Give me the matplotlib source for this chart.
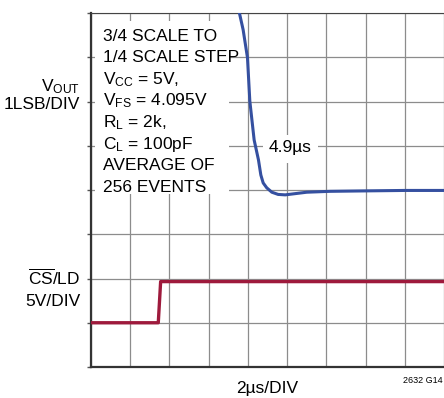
import matplotlib
matplotlib.use('Agg')
import matplotlib.pyplot as plt
from matplotlib.patches import Rectangle

plt.rcParams['font.family'] = ['Liberation Sans', 'DejaVu Sans']
plt.rcParams['mathtext.fontset'] = 'custom'
plt.rcParams['mathtext.rm'] = 'Liberation Sans'
plt.rcParams['mathtext.it'] = 'Liberation Sans'

# scope traces, in divisions (x: 2us/div, y: screen divisions)
vout_t = [3.68, 3.78, 3.88, 3.99, 4.05, 4.16, 4.27, 4.33, 4.39, 4.48, 4.61, 4.77,
          4.95, 5.50, 6.09, 7.0, 8.0, 9.0, 10.0]
vout_v = [8.6, 8.02, 7.62, 6.99, 6.01, 5.13, 4.68, 4.34, 4.16, 4.05, 3.95, 3.90,
          3.89, 3.95, 3.97, 3.98, 3.99, 3.99, 3.99]
cs_t = [0.0, 1.72, 1.78, 10.0]
cs_v = [1.0, 1.0, 1.93, 1.93]

cond_lines = ['3/4 SCALE TO', '1/4 SCALE STEP', r'V$_{\rm CC}$ = 5V,',
              r'V$_{\rm FS}$ = 4.095V', r'R$_{\rm L}$ = 2k,', r'C$_{\rm L}$ = 100pF',
              'AVERAGE OF', '256 EVENTS']
settle_label = '4.9µs'

W, H = 444, 398
fig = plt.figure(figsize=(W / 100, H / 100), dpi=100)
x0, y0, dx, dy = 90.7, 367.0, 39.29, 44.25
ax = fig.add_axes([x0 / W, (H - y0) / H, 10 * dx / W, 8 * dy / H])
ax.set_xlim(0, 10)
ax.set_ylim(0, 8)
ax.set_xticks(range(11))
ax.set_yticks(range(9))
ax.set_xticklabels([])
ax.set_yticklabels([])
ax.tick_params(axis='x', length=0)
ax.tick_params(axis='y', direction='out', length=3, width=1, color='#555555')
ax.grid(True, color='#8c8c8c', linewidth=0.9)
ax.set_axisbelow(True)
for s in ['left', 'bottom']:
    ax.spines[s].set_linewidth(1.6)
    ax.spines[s].set_color('#333333')
ax.spines['top'].set_linewidth(0.8)
ax.spines['top'].set_color('#444444')
ax.spines['right'].set_visible(False)

# white panels behind the annotation text
ax.add_patch(Rectangle((0.11, 3.90), 3.42, 3.92, fc='white', ec='none', zorder=1))
ax.add_patch(Rectangle((4.39, 4.62), 1.40, 0.62, fc='white', ec='none', zorder=1))

ax.plot(vout_t, vout_v, color='#3550a0', lw=2.2, solid_joinstyle='round', zorder=3)
ax.plot(cs_t, cs_v, color='#9e1a3c', lw=2.4, solid_joinstyle='round', zorder=3)

fs = 12.5
for i, s in enumerate(cond_lines):
    base = 40.7 + i * 21.6
    ax.text(0.32, (y0 - base) / dy, s, fontsize=fs, va='baseline', ha='left', zorder=4)
ax.text(5.08, (y0 - 151.7) / dy, settle_label, fontsize=fs, va='baseline', ha='center', zorder=4)

# channel labels left of the screen
ax.text(-0.26, (y0 - 91.7) / dy, r'V$_{\rm OUT}$', fontsize=fs, ha='right', va='baseline', clip_on=False)
ax.text(-0.26, (y0 - 109) / dy, '1LSB/DIV', fontsize=fs, ha='right', va='baseline', clip_on=False)
ax.text(-0.26, (y0 - 285) / dy, r'$\overline{\rm CS}$/LD', fontsize=fs, ha='right', va='baseline', clip_on=False)
ax.text(-0.26, (y0 - 306) / dy, '5V/DIV', fontsize=fs, ha='right', va='baseline', clip_on=False)
ax.text(4.50, (y0 - 393) / dy, '2µs/DIV', fontsize=fs, ha='center', va='baseline', clip_on=False)
ax.text(7.95, (y0 - 383) / dy, '2632 G14', fontsize=6.5, ha='left', va='baseline', clip_on=False)

fig.savefig('out.png', dpi=100)
